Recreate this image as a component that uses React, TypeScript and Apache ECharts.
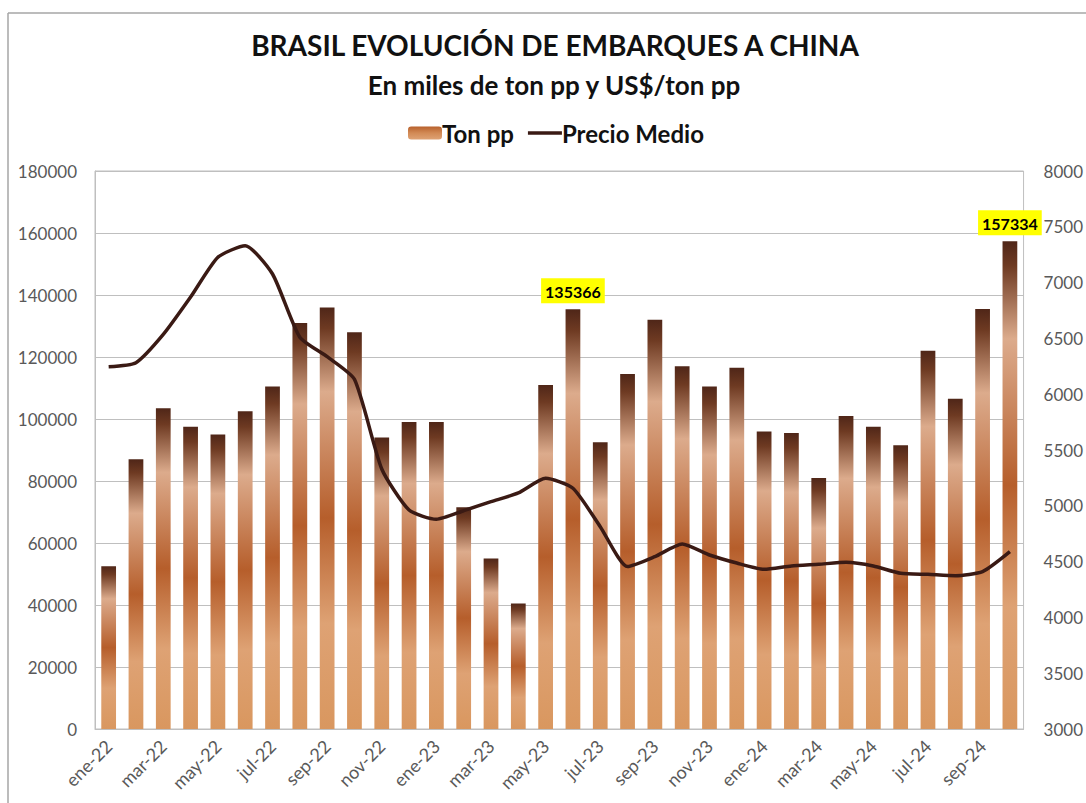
import React, { useEffect, useRef } from "react";
import * as echarts from "echarts";

const categories = [
  "ene-22", "feb-22", "mar-22", "abr-22", "may-22", "jun-22", "jul-22", "ago-22", "sep-22", "oct-22", "nov-22", "dic-22",
  "ene-23", "feb-23", "mar-23", "abr-23", "may-23", "jun-23", "jul-23", "ago-23", "sep-23", "oct-23", "nov-23", "dic-23",
  "ene-24", "feb-24", "mar-24", "abr-24", "may-24", "jun-24", "jul-24", "ago-24", "sep-24", "oct-24",
];

const tonPP = [
  52500, 87000, 103500, 97500, 95000, 102500, 110500, 131000, 136000, 128000, 94000, 99000,
  99000, 71500, 55000, 40500, 111000, 135366, 92500, 114500, 132000, 117000, 110500, 116500,
  96000, 95500, 81000, 101000, 97500, 91500, 122000, 106500, 135500, 157334,
];

const precioMedio = [
  6246, 6282, 6535, 6870, 7227, 7331, 7077, 6510, 6336, 6133, 5330, 4962,
  4879, 4956, 5037, 5115, 5246, 5157, 4813, 4455, 4544, 4658, 4559, 4487,
  4431, 4461, 4476, 4494, 4461, 4395, 4386, 4374, 4410, 4589,
];

const labeledIndexes = [17, 33];

const leftTicks = { min: 0, max: 180000, interval: 20000 };
const rightTicks = { min: 3000, max: 8000, interval: 500 };

const FONT = "Lato, 'Open Sans', sans-serif";

export default function App() {
  const ref = useRef<HTMLDivElement>(null);

  useEffect(() => {
    if (!ref.current) return;
    const chart = echarts.init(ref.current, null, { renderer: "svg" });

    const barGradient = new echarts.graphic.LinearGradient(0, 0, 0, 1, [
      { offset: 0, color: "#4f2618" },
      { offset: 0.05, color: "#6e3a22" },
      { offset: 0.2, color: "#dcab8c" },
      { offset: 0.5, color: "#b65e2b" },
      { offset: 0.75, color: "#dea274" },
      { offset: 1, color: "#d9975f" },
    ]);

    const legendGradient = new echarts.graphic.LinearGradient(0, 0, 0, 1, [
      { offset: 0, color: "#b8612d" },
      { offset: 0.5, color: "#d28a55" },
      { offset: 1, color: "#dea274" },
    ]);

    const barData = tonPP.map((v, i) =>
      labeledIndexes.includes(i)
        ? {
            value: v,
            label: {
              show: true,
              position: "top",
              distance: 6,
              backgroundColor: "#ffff00",
              padding: [5, 4, 4, 4],
              color: "#000",
              fontFamily: FONT,
              fontWeight: "bold",
              fontSize: 16,
            },
          }
        : v
    );

    chart.setOption({
      animation: false,
      backgroundColor: "#ffffff",
      graphic: [
        { type: "line", shape: { x1: 8, y1: 13, x2: 1086, y2: 13 }, style: { stroke: "#a6a6a6", lineWidth: 1.5 } },
        { type: "line", shape: { x1: 8, y1: 13, x2: 8, y2: 803 }, style: { stroke: "#a6a6a6", lineWidth: 1.5 } },
        {
          type: "text",
          x: 555,
          y: 45,
          style: {
            text: "BRASIL EVOLUCIÓN DE EMBARQUES A CHINA",
            fill: "#111",
            font: `bold 28px ${FONT}`,
            textAlign: "center",
            textVerticalAlign: "middle",
          },
        },
        {
          type: "text",
          x: 554,
          y: 85,
          style: {
            text: "En miles de ton pp y US$/ton pp",
            fill: "#111",
            font: `bold 26px ${FONT}`,
            textAlign: "center",
            textVerticalAlign: "middle",
          },
        },
      ],
      legend: {
        left: 403,
        top: 116,
        itemGap: 14,
        itemWidth: 34,
        itemHeight: 13,
        textStyle: { fontFamily: FONT, fontWeight: "bold", fontSize: 24, color: "#111", padding: [0, 0, 0, -5] },
        data: [
          { name: "Ton pp", itemStyle: { color: legendGradient } },
          {
            name: "Precio Medio",
            icon: "path://M0,0 L40,0 L40,4 L0,4 Z",
            itemStyle: { color: "#3a1a14" },
          },
        ],
      },
      grid: {
        left: 95,
        right: 54,
        top: 171,
        bottom: 74,
        show: true,
        borderColor: "#bfbfbf",
        borderWidth: 1,
      },
      xAxis: {
        type: "category",
        data: categories,
        boundaryGap: true,
        axisLine: { show: true, lineStyle: { color: "#bfbfbf" } },
        axisTick: { show: false },
        axisLabel: {
          interval: 1,
          rotate: 45,
          margin: 14,
          color: "#595959",
          fontFamily: FONT,
          fontSize: 18,
        },
      },
      yAxis: [
        {
          type: "value",
          min: leftTicks.min,
          max: leftTicks.max,
          interval: leftTicks.interval,
          axisLine: { show: true, lineStyle: { color: "#bfbfbf" } },
          axisTick: { show: false },
          splitLine: { show: true, lineStyle: { color: "#bfbfbf", width: 1 } },
          axisLabel: {
            color: "#595959",
            fontFamily: FONT,
            fontSize: 17,
            margin: 18,
            formatter: (v: number) => String(v),
          },
        },
        {
          type: "value",
          min: rightTicks.min,
          max: rightTicks.max,
          interval: rightTicks.interval,
          axisLine: { show: false },
          axisTick: { show: false },
          splitLine: { show: false },
          axisLabel: {
            color: "#595959",
            fontFamily: FONT,
            fontSize: 17,
            margin: 20,
            formatter: (v: number) => String(v),
          },
        },
      ],
      series: [
        {
          name: "Ton pp",
          type: "bar",
          yAxisIndex: 0,
          barWidth: "54%",
          itemStyle: { color: barGradient },
          data: barData,
          z: 2,
        },
        {
          name: "Precio Medio",
          type: "line",
          yAxisIndex: 1,
          data: precioMedio,
          smooth: 0.2,
          symbol: "none",
          lineStyle: { color: "#3a1a14", width: 3.5 },
          itemStyle: { color: "#3a1a14" },
          z: 3,
        },
      ],
    });

    return () => chart.dispose();
  }, []);

  return (
    <div
      ref={ref}
      style={{ position: "absolute", left: 0, top: 0, width: 1086, height: 803 }}
    />
  );
}
